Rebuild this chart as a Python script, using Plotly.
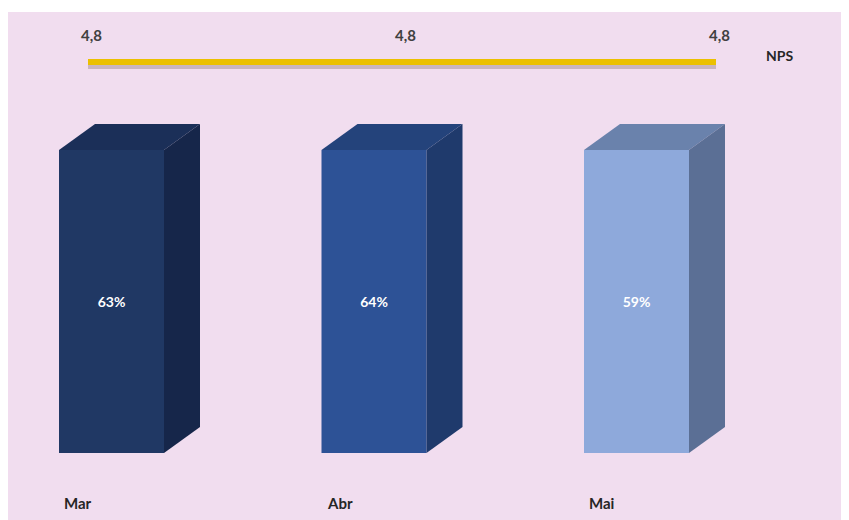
import plotly.graph_objects as go

# ---- data ----
months = ["Mar", "Abr", "Mai"]
share_values = [63, 64, 59]          # % shown on the bars
bar_scale = [100, 100, 100]          # bars drawn as full (100%) columns
nps_values = [4.8, 4.8, 4.8]
nps_labels = ["4,8", "4,8", "4,8"]

front_colors = ["#203864", "#2D5296", "#8EA9DB"]
side_colors = ["#16264A", "#1F3A6C", "#5B6F95"]
top_colors = ["#1B2F58", "#24437B", "#6A82AC"]

BG = "#F1DDEF"
W, H = 849, 520
OFF = 8            # page body margin
ML, MT = 0, 4
plot_w, plot_h = W - ML, H - MT


def px_x(page_x):
    return page_x - OFF - ML


def px_y_from_bottom(page_y):
    return plot_h - (page_y - OFF - MT)


spacing_px = 262.5
x_min = -px_x(111.5) / spacing_px
x_max = x_min + plot_w / spacing_px
u_per_px = 100 / 303.0
y_min = -px_y_from_bottom(453) * u_per_px
y_max = y_min + plot_h * u_per_px

bar_w = 0.4
dx = 36 / spacing_px
dy = 26 * u_per_px

xs = list(range(len(months)))

fig = go.Figure()

fig.add_trace(go.Bar(
    x=xs, y=bar_scale, width=bar_w,
    marker=dict(color=front_colors, line=dict(width=0)),
    text=[f"{v}%" for v in share_values],
    textposition="inside", insidetextanchor="middle",
    textfont=dict(family="Lato", size=14, color="white", weight="bold"),
    hoverinfo="skip", showlegend=False,
))

for i, h in enumerate(bar_scale):
    l = xs[i] - bar_w / 2
    r = xs[i] + bar_w / 2
    fig.add_trace(go.Scatter(
        x=[l, l + dx, r + dx, r, l], y=[h, h + dy, h + dy, h, h],
        fill="toself", fillcolor=top_colors[i], mode="lines",
        line=dict(width=0, color=top_colors[i]), hoverinfo="skip", showlegend=False,
    ))
    fig.add_trace(go.Scatter(
        x=[r, r + dx, r + dx, r, r], y=[0, dy, h + dy, h, 0],
        fill="toself", fillcolor=side_colors[i], mode="lines",
        line=dict(width=0, color=side_colors[i]), hoverinfo="skip", showlegend=False,
    ))

# NPS line on its own axes
sp2 = 314.0
x2_min = -px_x(88) / sp2
x2_max = x2_min + plot_w / sp2
y2_min = 4.8 - px_y_from_bottom(62) / plot_h
y2_max = y2_min + 1

fig.add_trace(go.Scatter(
    x=xs, y=[v - 3 / plot_h for v in nps_values], mode="lines",
    line=dict(color="rgba(110,90,80,0.30)", width=8),
    xaxis="x2", yaxis="y2", hoverinfo="skip", showlegend=False,
))
fig.add_trace(go.Scatter(
    x=xs, y=nps_values, mode="lines",
    line=dict(color="#EBC000", width=6),
    xaxis="x2", yaxis="y2", hoverinfo="skip", showlegend=False,
))

annotations = []
for i, lab in enumerate(nps_labels):
    annotations.append(dict(
        x=xs[i], y=nps_values[i], xref="x2", yref="y2", text=lab, showarrow=False,
        xanchor="center", yanchor="middle", yshift=27, xshift=3,
        font=dict(family="Lato", size=15, color="#404040", weight="bold"),
    ))
for i, m in enumerate(months):
    annotations.append(dict(
        x=i - bar_w / 2 + 0.012, y=y_min + px_y_from_bottom(503) * u_per_px,
        xref="x", yref="y", text=m, showarrow=False, xanchor="left", yanchor="middle",
        font=dict(family="Lato", size=15, color="#262626", weight="bold"),
    ))
annotations.append(dict(
    x=px_x(779) / plot_w, y=px_y_from_bottom(55) / plot_h, xref="paper", yref="paper",
    text="NPS", showarrow=False, xanchor="center", yanchor="middle",
    font=dict(family="Lato", size=14, color="#262626", weight="bold"),
))

fig.update_layout(
    width=W, height=H,
    margin=dict(l=ML, r=0, t=MT, b=0),
    paper_bgcolor=BG, plot_bgcolor=BG,
    xaxis=dict(range=[x_min, x_max], visible=False, fixedrange=True),
    yaxis=dict(range=[y_min, y_max], visible=False, fixedrange=True),
    xaxis2=dict(range=[x2_min, x2_max], overlaying="x", visible=False),
    yaxis2=dict(range=[y2_min, y2_max], overlaying="y", visible=False),
    annotations=annotations,
    shapes=[dict(type="rect", xref="paper", yref="paper", x0=-0.1, x1=1.1,
                 y0=1, y1=1 + MT / plot_h + 0.01, fillcolor="white",
                 line=dict(width=0), layer="below")],
)

fig.write_html("out.html")
